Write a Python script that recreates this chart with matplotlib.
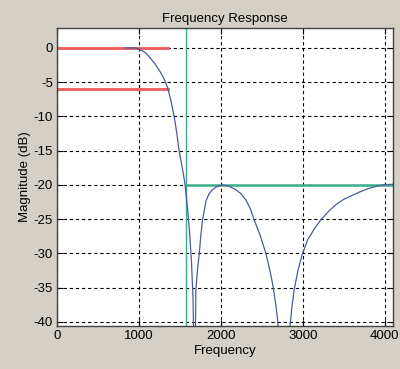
import matplotlib.pyplot as plt

# filter magnitude response
freq = [830, 900, 960, 1000, 1040, 1080, 1140, 1200, 1260, 1310, 1350, 1390, 1430, 1460, 1490,
        1530, 1560, 1590, 1615, 1640, 1660, 1672, 1684, 1695, 1715, 1736, 1755, 1776, 1817, 1855,
        1898, 1950, 2020, 2100, 2183, 2245, 2305, 2360, 2406, 2480, 2549, 2600, 2638, 2670, 2690,
        2703, 2720, 2760, 2800, 2830, 2841, 2865, 2894, 2940, 2996, 3060, 3140, 3220, 3310, 3402,
        3500, 3606, 3700, 3809, 3900, 3972, 4096]
mag = [0.0, 0.0, 0.0, -0.2, -0.4, -0.7, -1.5, -2.4, -3.5, -4.6, -5.8, -7.7, -10.0, -12.3, -15.0,
       -17.6, -19.7, -23.0, -26.5, -31.0, -36.5, -46.0, -46.0, -35.3, -32.3, -30.0, -27.4, -25.1, -22.4, -21.3,
       -20.7, -20.25, -20.0, -20.2, -20.7, -21.3, -22.2, -23.5, -25.1, -27.4, -30.0, -32.6, -34.9, -37.5, -39.5,
       -41.5, -48.0, -60.0, -60.0, -44.0, -41.0, -38.0, -35.3, -32.5, -30.0, -28.0, -26.4, -25.1, -23.9, -22.9,
       -22.1, -21.5, -21.0, -20.5, -20.2, -20.0, -19.9]

# specification lines
pass_x = [0, 1350]
pass_hi = [0, 0]
pass_lo = [-6, -6]
stop_edge = 1570
stop_x = [1570, 4100]
stop_lvl = [-20, -20]

plt.rcParams['font.family'] = ['Liberation Sans', 'DejaVu Sans']
plt.rcParams['axes.unicode_minus'] = False
bg = '#d4d0c8'
fig = plt.figure(figsize=(4.0, 3.69), dpi=100, facecolor=bg)
ax = fig.add_axes([0.1425, 0.1165, 0.84, 0.8075])

ax.plot(pass_x, pass_hi, color='#ee5a5a', linewidth=2)
ax.plot(pass_x, pass_lo, color='#ee5a5a', linewidth=2)
ax.axvline(stop_edge, color='#3aae8c', linewidth=1)
ax.plot(stop_x, stop_lvl, color='#3aae8c', linewidth=1.8)
ax.plot(freq, mag, color='#4a5c9c', linewidth=0.9)

ax.set_xlim(0, 4100)
ax.set_ylim(-40.6, 2.9)
ax.set_xticks([0, 1000, 2000, 3000, 4000])
ax.set_yticks([0, -5, -10, -15, -20, -25, -30, -35, -40])
ax.tick_params(direction='in', labelsize=9.5, length=4, top=True, right=True,
               labeltop=False, labelright=False, pad=3)
ax.grid(True, color='black', linestyle=(0, (3, 2.5)), linewidth=0.8)
for s in ax.spines.values():
    s.set_color('#404040')
    s.set_linewidth(1)

ax.set_title('Frequency Response', fontsize=9.5, pad=4)
ax.set_xlabel('Frequency', fontsize=9.5, labelpad=2)
ax.set_ylabel('Magnitude (dB)', fontsize=9.5, labelpad=2)

fig.savefig('out.png', dpi=100, facecolor=bg)
